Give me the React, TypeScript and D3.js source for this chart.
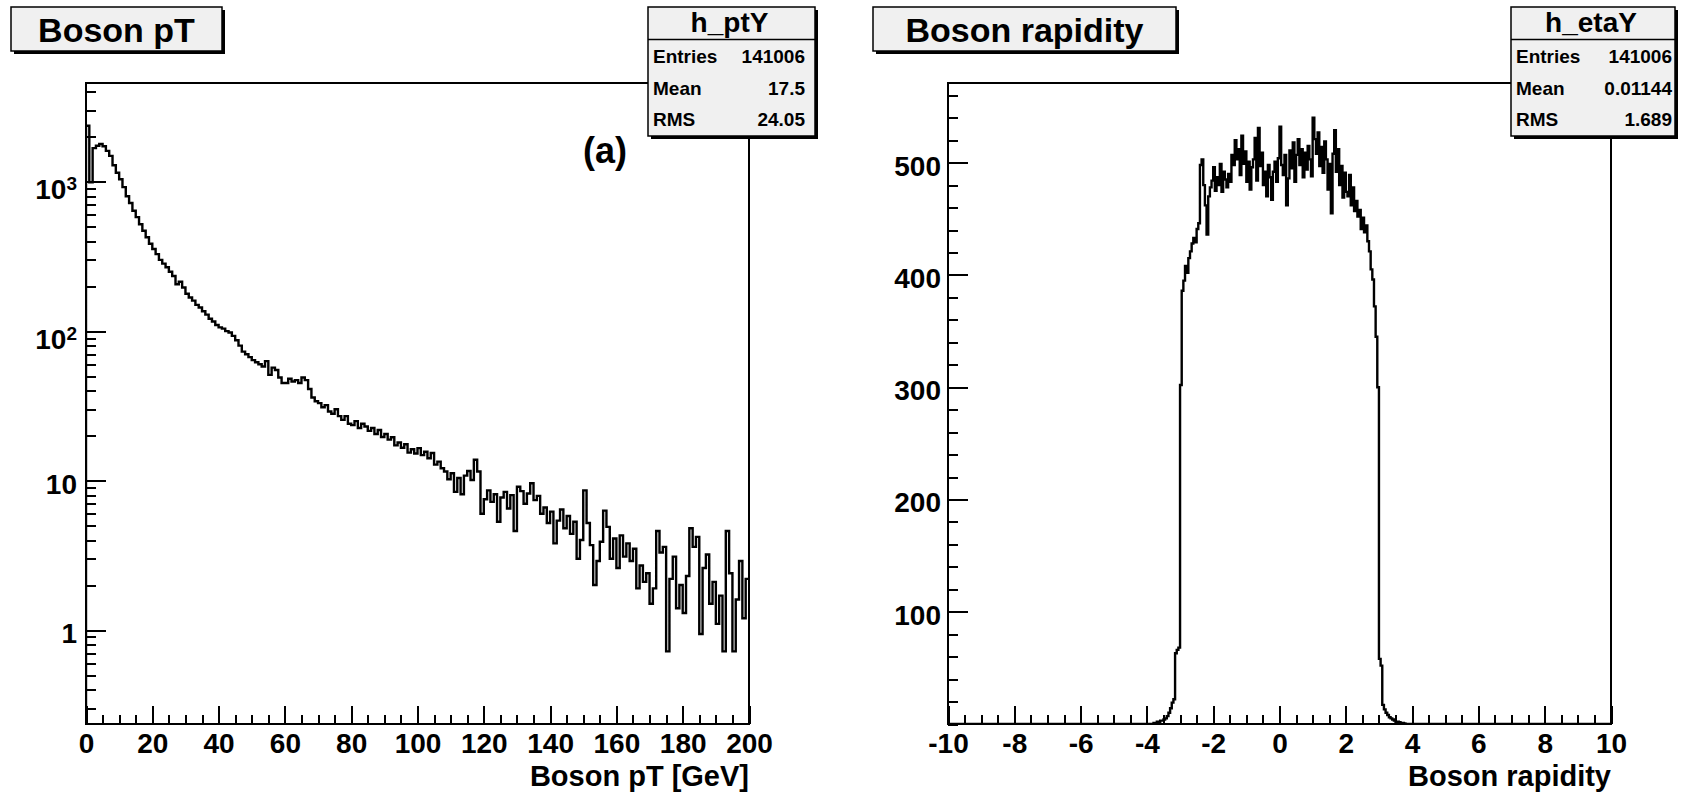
import React, { useEffect, useRef } from 'react';
import * as d3 from 'd3';

// ---- data ----------------------------------------------------------------

// Boson pT histogram, 1 GeV bins from 0 to 200 GeV
const ptRange = [0, 200];
const ptBinWidth = 1;
const ptCounts = [
    2370, 990, 1680, 1740, 1790, 1730, 1610, 1490, 1290, 1150,
    1040, 920, 800, 720, 640, 580, 520, 470, 425, 385,
    355, 328, 300, 283, 268, 250, 234, 206, 214, 196,
    178, 168, 160, 150, 144, 136, 129, 121, 116, 110,
    106, 104, 100, 98, 93, 87, 80, 73, 70, 67,
    64, 62, 60, 58, 63, 51, 57, 55, 49, 45,
    45, 48, 46, 47, 45, 49, 47, 41, 36, 34,
    33, 31, 32, 29, 28, 30, 27, 25.5, 27, 24,
    23.5, 25, 22.5, 24, 23, 21.5, 22.5, 20.5, 21.8, 19.6,
    20.5, 18.8, 19.5, 17.2, 18, 16.6, 17.5, 15.4, 16.2, 15.2,
    16.5, 14.8, 15.6, 14.1, 15.3, 12.8, 13.4, 12.1, 11.5, 10.2,
    11.2, 8.4, 10.4, 8.1, 10.8, 11.6, 10.1, 13.8, 11.5, 6.0,
    7.5, 8.6, 7.2, 8.1, 5.3, 7.7, 8.4, 6.5, 8.0, 4.6,
    9.1, 8.5, 7.0, 8.2, 9.6, 7.4, 7.9, 6.0, 6.6, 5.2,
    6.2, 3.8, 5.4, 6.4, 4.8, 5.8, 4.4, 5.3, 3.0, 4.0,
    8.6, 5.2, 3.7, 2.0, 2.9, 3.9, 6.3, 4.9, 3.0, 4.1,
    2.6, 4.3, 3.1, 3.8, 2.9, 3.5, 1.9, 2.7, 2.1, 2.4,
    1.5, 1.9, 4.6, 3.3, 3.6, 0.72, 2.2, 3.1, 1.4, 2.0,
    1.3, 2.3, 4.8, 3.6, 4.2, 0.94, 2.6, 3.2, 1.5, 2.1,
    1.1, 1.7, 0.72, 4.6, 2.4, 0.72, 1.6, 2.9, 1.2, 2.2
];
const ptYRange = [0.235, 4580];
const ptLabelTicks = [1, 10, 100, 1000];
const ptStats = [['Entries', '141006'], ['Mean', '17.5'], ['RMS', '24.05']];

// Boson rapidity histogram, 0.05 wide bins; only the filled range (-3.8 .. 3.8) is listed
const etaRange = [-10, 10];
const etaFirstEdge = -3.8;
const etaBinWidth = 0.05;
const etaCounts = [
    1, 1, 2, 2, 3, 3, 4, 5, 7, 10,
    14, 19, 22, 63, 66, 68, 302, 386, 395, 408,
    402, 415, 421, 428, 433, 429, 441, 446, 498, 503,
    480, 462, 436, 470, 478, 484, 496, 475, 487, 480,
    499, 474, 492, 485, 478, 490, 483, 507, 498, 520,
    503, 512, 489, 524, 499, 510, 483, 501, 476, 496,
    503, 522, 484, 531, 497, 509, 480, 492, 470, 498,
    487, 467, 492, 501, 483, 504, 532, 498, 489, 507,
    462, 486, 511, 495, 518, 483, 507, 521, 498, 512,
    487, 509, 494, 515, 503, 488, 540, 521, 508, 527,
    497, 514, 491, 519, 503, 476, 499, 455, 508, 529,
    492, 512, 480, 497, 469, 491, 474, 470, 489, 462,
    478, 457, 466, 452, 458, 441, 451, 438, 444, 430,
    421, 405, 396, 372, 345, 300, 58, 52, 17, 13,
    10, 8, 6, 5, 4, 3, 2, 2, 1.5, 1, 1, 0.5
];
const etaYRange = [0, 571];
const etaLabelTicks = [100, 200, 300, 400, 500];
const etaStats = [['Entries', '141006'], ['Mean', '0.01144'], ['RMS', '1.689']];

// ---- styling ---------------------------------------------------------------

const FONT = '"Liberation Sans", Arial, Helvetica, sans-serif';
const BOX_FILL = '#f0f0f0';

const styleAxis = (g, fontSize) => {
    g.select('.domain').remove();
    g.selectAll('line')
        .attr('stroke', '#000')
        .attr('stroke-width', 2)
        .attr('shape-rendering', 'crispEdges');
    g.selectAll('text')
        .attr('fill', '#000')
        .attr('font-family', FONT)
        .attr('font-weight', 'bold')
        .attr('font-size', fontSize);
};

const drawBox = (svg, x, y, w, h) => {
    // shadow first, box on top
    svg.append('rect')
        .attr('x', x + 3).attr('y', y + 3)
        .attr('width', w).attr('height', h)
        .attr('fill', '#000');
    svg.append('rect')
        .attr('x', x).attr('y', y)
        .attr('width', w).attr('height', h)
        .attr('fill', BOX_FILL)
        .attr('stroke', '#000')
        .attr('stroke-width', 1.5);
};

const drawTitle = (svg, title, x, w) => {
    drawBox(svg, x, 7, w, 44);
    svg.append('text')
        .attr('x', x + w / 2)
        .attr('y', 42)
        .attr('text-anchor', 'middle')
        .attr('font-family', FONT)
        .attr('font-weight', 'bold')
        .attr('font-size', 34)
        .text(title);
};

const drawStats = (svg, name, rows, x, w, valueRight) => {
    drawBox(svg, x, 7, w, 129);
    svg.append('line')
        .attr('x1', x).attr('x2', x + w)
        .attr('y1', 39.5).attr('y2', 39.5)
        .attr('stroke', '#000')
        .attr('stroke-width', 1.5);
    svg.append('text')
        .attr('x', x + w / 2 - 2)
        .attr('y', 32)
        .attr('text-anchor', 'middle')
        .attr('font-family', FONT)
        .attr('font-weight', 'bold')
        .attr('font-size', 28)
        .text(name);
    rows.forEach(([label, value], i) => {
        const base = 63 + i * 31.7;
        svg.append('text')
            .attr('x', x + 5).attr('y', base)
            .attr('font-family', FONT).attr('font-weight', 'bold').attr('font-size', 19)
            .text(label);
        svg.append('text')
            .attr('x', valueRight).attr('y', base)
            .attr('text-anchor', 'end')
            .attr('font-family', FONT).attr('font-weight', 'bold').attr('font-size', 19)
            .text(value);
    });
};

// ---- one pad: frame, histogram, axes ---------------------------------------

const drawPanel = (svg, cfg) => {
    const { left, right, top, bottom } = cfg.frame;

    const x = d3.scaleLinear().domain(cfg.xDomain).range([left, right]);
    const y = cfg.log
        ? d3.scaleLog().domain(cfg.yDomain).range([bottom, top]).clamp(true)
        : d3.scaleLinear().domain(cfg.yDomain).range([bottom, top]).clamp(true);

    const clipId = `clip-${cfg.id}`;
    svg.append('clipPath').attr('id', clipId)
        .append('rect')
        .attr('x', left).attr('y', top)
        .attr('width', right - left).attr('height', bottom - top);

    // Histogram as a step line
    const line = d3.line()
        .x(d => x(d.x))
        .y(d => y(d.v))
        .curve(d3.curveStepAfter);

    svg.append('path')
        .datum(cfg.points)
        .attr('d', line)
        .attr('fill', 'none')
        .attr('stroke', '#000')
        .attr('stroke-width', 2.4)
        .attr('stroke-linejoin', 'miter')
        .attr('clip-path', `url(#${clipId})`);

    // X axis: major ticks with labels, minor ticks without
    const xMinor = x.ticks(40);
    const xMajor = xMinor.filter(d => Math.abs(d / cfg.xMajorStep - Math.round(d / cfg.xMajorStep)) < 1e-6);

    const xMinorG = svg.append('g')
        .attr('transform', `translate(0,${bottom})`)
        .call(d3.axisBottom(x).tickValues(xMinor).tickSizeInner(-9).tickSizeOuter(0).tickFormat(() => ''));
    styleAxis(xMinorG, 28);

    const xMajorG = svg.append('g')
        .attr('transform', `translate(0,${bottom})`)
        .call(d3.axisBottom(x).tickValues(xMajor).tickSizeInner(-18).tickSizeOuter(0)
            .tickPadding(9).tickFormat(d => String(d)));
    styleAxis(xMajorG, 28);

    // Y axis
    const yMinorG = svg.append('g')
        .attr('transform', `translate(${left},0)`)
        .call(d3.axisLeft(y).tickValues(cfg.yMinor).tickSizeInner(-10).tickSizeOuter(0).tickFormat(() => ''));
    styleAxis(yMinorG, 28);

    const yMajorG = svg.append('g')
        .attr('transform', `translate(${left},0)`)
        .call(d3.axisLeft(y).tickValues(cfg.yLabels).tickSizeInner(-20).tickSizeOuter(0)
            .tickPadding(cfg.yPad).tickFormat(d => String(d)));
    styleAxis(yMajorG, 28);

    yMajorG.selectAll('.tick text').each(function (d) {
        const t = d3.select(this).attr('dy', null).text(null);
        const exp = Math.round(Math.log10(d));
        if (cfg.log && exp >= 2) {
            t.append('tspan').attr('dy', 17).text('10');
            t.append('tspan').attr('dy', -9).attr('font-size', 19).text(String(exp));
        } else {
            t.append('tspan').attr('dy', 12.5).text(String(d));
        }
    });

    // Frame
    svg.append('rect')
        .attr('x', left).attr('y', top)
        .attr('width', right - left).attr('height', bottom - top)
        .attr('fill', 'none')
        .attr('stroke', '#000')
        .attr('stroke-width', 2)
        .attr('shape-rendering', 'crispEdges');

    // Axis title
    svg.append('text')
        .attr('x', right)
        .attr('y', 786)
        .attr('text-anchor', 'end')
        .attr('font-family', FONT)
        .attr('font-weight', 'bold')
        .attr('font-size', 29)
        .text(cfg.xTitle);
};

const App = () => {
    const ref = useRef(null);

    useEffect(() => {
        document.body.style.margin = '0';
        const svg = d3.select(ref.current);
        svg.selectAll('*').remove();

        svg.append('rect').attr('width', 1681).attr('height', 792).attr('fill', '#fff');

        // ---- left pad: boson pT (log y) ----
        const ptPoints = [
            { x: ptRange[0], v: ptYRange[0] },
            ...ptCounts.map((v, i) => ({ x: ptRange[0] + i * ptBinWidth, v })),
            { x: ptRange[1], v: ptCounts[ptCounts.length - 1] }
        ];
        const ptLog = d3.scaleLog().domain(ptYRange);

        drawPanel(svg, {
            id: 'pt',
            frame: { left: 86, right: 749, top: 83, bottom: 724 },
            xDomain: ptRange,
            xMajorStep: 20,
            yDomain: ptYRange,
            log: true,
            yMinor: ptLog.ticks(),
            yLabels: ptLabelTicks,
            yPad: 9,
            points: ptPoints,
            xTitle: 'Boson pT [GeV]'
        });

        // ---- right pad: boson rapidity (linear y) ----
        const etaLast = etaFirstEdge + etaCounts.length * etaBinWidth;
        const etaPoints = [
            { x: etaRange[0], v: 0 },
            ...etaCounts.map((v, i) => ({ x: etaFirstEdge + i * etaBinWidth, v })),
            { x: etaLast, v: 0 },
            { x: etaRange[1], v: 0 }
        ];
        const etaLin = d3.scaleLinear().domain(etaYRange);

        drawPanel(svg, {
            id: 'eta',
            frame: { left: 948, right: 1611, top: 83, bottom: 724 },
            xDomain: etaRange,
            xMajorStep: 2,
            yDomain: etaYRange,
            log: false,
            yMinor: etaLin.ticks(28),
            yLabels: etaLabelTicks,
            yPad: 7,
            points: etaPoints,
            xTitle: 'Boson rapidity'
        });

        // Pad label
        svg.append('text')
            .attr('x', 627)
            .attr('y', 163)
            .attr('text-anchor', 'end')
            .attr('font-family', FONT)
            .attr('font-weight', 'bold')
            .attr('font-size', 36)
            .text('(a)');

        // Titles and statistics boxes
        drawTitle(svg, 'Boson pT', 11, 211);
        drawTitle(svg, 'Boson rapidity', 873, 303);
        drawStats(svg, 'h_ptY', ptStats, 648, 167, 805);
        drawStats(svg, 'h_etaY', etaStats, 1511, 164, 1672);
    }, []);

    return <svg ref={ref} width={1681} height={792} style={{ display: 'block' }} />;
};

export default App;
